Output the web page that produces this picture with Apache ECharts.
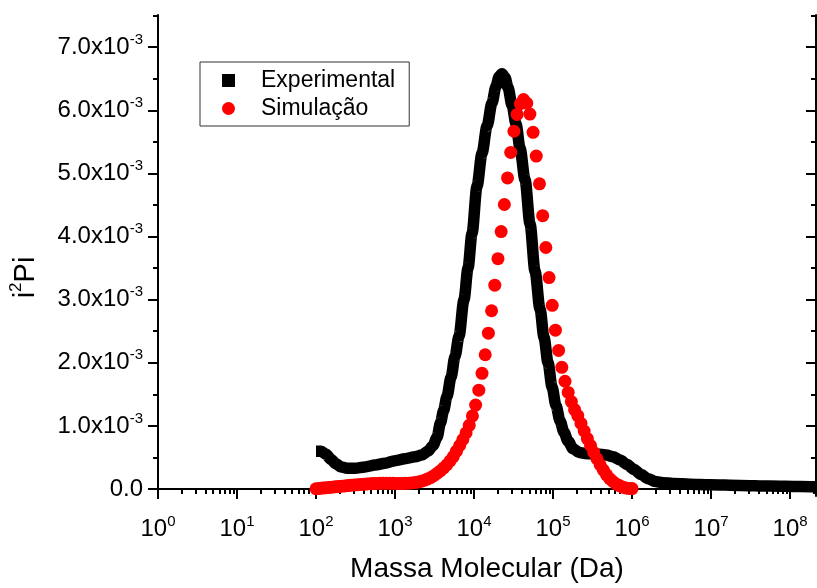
<!DOCTYPE html>
<html>
<head>
<meta charset="utf-8">
<script src="https://cdn.jsdelivr.net/npm/echarts@6/dist/echarts.min.js"></script>
<style>html,body{margin:0;padding:0;background:#fff}#chart{width:817px;height:588px}</style>
</head>
<body>
<div id="chart"></div>
<script>
// Experimental curve: molecular mass (Da) and i^2 Pi (in units of 1e-3)
const expMass = [100, 115.7, 133.9, 154.9, 179.2, 207.3, 246.6, 311.6, 417, 558, 747, 1000, 1339, 1791, 2198, 2617, 3027, 3404, 3766, 4111, 4550, 5112, 5741, 6450, 7460, 8390, 9433, 10914, 12624, 14610, 16900, 18970, 20720, 22600, 24660, 26920, 30270, 34040, 38220, 44230, 51170, 59200, 68430, 76920, 86500, 97100, 109100, 122700, 137700, 154900, 179100, 213300, 269200, 360500, 468900, 574400, 704600, 864300, 1060000, 1300000, 1596000, 1955000, 2467000, 3300000, 5420000, 9700000, 23300000, 55800000, 134000000, 213000000];
const expValue = [0.60, 0.60, 0.55, 0.47, 0.40, 0.35, 0.33, 0.33, 0.35, 0.38, 0.41, 0.45, 0.48, 0.51, 0.54, 0.60, 0.69, 0.82, 1.05, 1.24, 1.47, 1.77, 2.10, 2.42, 3.00, 3.50, 4.05, 4.80, 5.32, 5.75, 6.12, 6.38, 6.53, 6.58, 6.52, 6.36, 6.08, 5.78, 5.40, 4.90, 4.20, 3.45, 2.85, 2.40, 2.00, 1.62, 1.32, 1.08, 0.90, 0.76, 0.64, 0.58, 0.56, 0.555, 0.54, 0.51, 0.46, 0.39, 0.31, 0.23, 0.165, 0.12, 0.10, 0.09, 0.077, 0.068, 0.058, 0.048, 0.040, 0.035];

// Simulation: 100 points on a log grid from 1e2 to 1e6 Da; values in units of 1e-3
const simFirstMass = 1e2, simLastMass = 1e6;
const simValue = [
  0.005, 0.010, 0.015, 0.020, 0.025, 0.030, 0.035, 0.040, 0.045, 0.050,
  0.055, 0.060, 0.065, 0.070, 0.074, 0.078, 0.082, 0.085, 0.088, 0.090,
  0.091, 0.092, 0.092, 0.092, 0.091, 0.090, 0.090, 0.090, 0.091, 0.093,
  0.097, 0.103, 0.112, 0.125, 0.140, 0.160, 0.185, 0.215, 0.250, 0.290,
  0.335, 0.385, 0.445, 0.515, 0.600, 0.690, 0.785, 0.890, 1.010, 1.158,
  1.331, 1.567, 1.834, 2.128, 2.470, 2.825, 3.230, 3.650, 4.079, 4.508,
  4.929, 5.333, 5.668, 5.935, 6.104, 6.170, 6.113, 5.940, 5.652, 5.275,
  4.835, 4.331, 3.827, 3.351, 2.910, 2.517, 2.196, 1.929, 1.708, 1.531,
  1.384, 1.258, 1.164, 1.040, 0.920, 0.800, 0.690, 0.580, 0.480, 0.385,
  0.300, 0.225, 0.165, 0.120, 0.080, 0.055, 0.032, 0.018, 0.010, 0.008
];

// Axis ticks
const xMajor = [1, 10, 100, 1e3, 1e4, 1e5, 1e6, 1e7, 1e8];
const xMinorMantissa = [2, 3, 4, 5, 6, 7, 8, 9];
const yMajor = [0, 1, 2, 3, 4, 5, 6, 7];
const yMinor = [0.5, 1.5, 2.5, 3.5, 4.5, 5.5, 6.5, 7.5];
const xMin = 1, xMax = 2.13e8, yMin = -0.11, yMax = 7.51;

const FONT = 'Liberation Sans, Arial, Helvetica, sans-serif';

const xMinor = [];
xMajor.forEach(d => xMinorMantissa.forEach(m => { if (m * d <= xMax) xMinor.push(m * d); }));

const simN = simValue.length;
const simData = simValue.map((v, i) => {
  const lg = Math.log10(simFirstMass) + (Math.log10(simLastMass) - Math.log10(simFirstMass)) * i / (simN - 1);
  return [Math.pow(10, lg), v];
});
const expData = expMass.map((m, i) => [m, expValue[i]]);

const lineBlack = { show: true, lineStyle: { color: '#000', width: 2 } };

function xAx(pos, ticks, len, inside, major) {
  return {
    type: 'log', logBase: 10, min: xMin, max: xMax, position: pos,
    axisLine: major ? lineBlack : { show: false },
    splitLine: { show: false },
    axisTick: { show: true, inside: inside, length: len, customValues: ticks, lineStyle: { color: '#000', width: 2 } },
    axisLabel: { show: false }
  };
}
function yAx(pos, ticks, len, inside, major) {
  return {
    type: 'value', min: yMin, max: yMax, position: pos,
    axisLine: major ? lineBlack : { show: false },
    splitLine: { show: false },
    axisTick: { show: true, inside: inside, length: len, customValues: ticks, lineStyle: { color: '#000', width: 2 } },
    axisLabel: { show: false }
  };
}

const xBottom = xAx('bottom', xMajor, 10, false, true);
xBottom.axisLabel = {
  show: true, customValues: xMajor, margin: 18,
  formatter: v => '{b|10}{s|' + Math.round(Math.log10(v)) + '}',
  rich: {
    b: { fontSize: 24, fontFamily: FONT, color: '#000', lineHeight: 30 },
    s: { fontSize: 15, fontFamily: FONT, color: '#000', verticalAlign: 'top', lineHeight: 15 }
  }
};
xBottom.name = 'Massa Molecular (Da)';
xBottom.nameLocation = 'middle';
xBottom.nameGap = 59;
xBottom.nameTextStyle = { fontSize: 28, fontFamily: FONT, color: '#000' };

const yLeft = yAx('left', yMajor, 10, false, true);
yLeft.axisLabel = {
  show: true, customValues: yMajor, margin: 15,
  formatter: v => v === 0 ? '{b|0.0}' : '{b|' + v.toFixed(1) + 'x10}{s|-3}',
  rich: {
    b: { fontSize: 24, fontFamily: FONT, color: '#000', lineHeight: 30 },
    s: { fontSize: 15, fontFamily: FONT, color: '#000', verticalAlign: 'top', lineHeight: 15 }
  }
};
yLeft.name = '{a|i}{s|2}{a|Pi}';
yLeft.nameLocation = 'middle';
yLeft.nameGap = 114;
yLeft.nameRotate = 90;
yLeft.nameTextStyle = {
  padding: [0, 44, 0, 0],
  rich: {
    a: { fontSize: 29, fontFamily: FONT, color: '#000', lineHeight: 36 },
    s: { fontSize: 17, fontFamily: FONT, color: '#000', verticalAlign: 'top', lineHeight: 17 }
  }
};

const option = {
  animation: false,
  backgroundColor: '#fff',
  grid: { left: 158, right: 1, top: 15, bottom: 89, containLabel: false },
  xAxis: [
    xBottom,
    xAx('bottom', xMinor, 5, false, false),
    xAx('top', xMajor, 10, true, true),
    xAx('top', xMinor, 5, true, false)
  ],
  yAxis: [
    yLeft,
    yAx('left', yMinor, 5, false, false),
    yAx('right', yMajor, 10, true, true),
    yAx('right', yMinor, 5, true, false)
  ],
  legend: {
    left: 200, top: 62, orient: 'vertical',
    padding: [7, 14, 6, 22], itemGap: 5, itemWidth: 13, itemHeight: 13,
    borderColor: '#333', borderWidth: 1, selectedMode: false,
    textStyle: { fontSize: 23, fontFamily: FONT, color: '#000', padding: [0, 0, 0, 21] },
    data: [ { name: 'Experimental', icon: 'rect' }, { name: 'Simulação', icon: 'circle' } ]
  },
  series: [
    {
      name: 'Experimental', type: 'line', xAxisIndex: 0, yAxisIndex: 0,
      data: expData, showSymbol: false, symbol: 'none',
      smooth: 0.3, smoothMonotone: 'x',
      lineStyle: { color: '#000', width: 11.5, cap: 'butt', join: 'round' },
      itemStyle: { color: '#000' }, z: 2
    },
    {
      name: 'Simulação', type: 'scatter', xAxisIndex: 0, yAxisIndex: 0,
      data: simData, symbol: 'circle', symbolSize: 13,
      itemStyle: { color: '#ff0000', opacity: 1 }, z: 3
    }
  ]
};

const chart = echarts.init(document.getElementById('chart'), null, { renderer: 'canvas' });
chart.setOption(option);
</script>
</body>
</html>
